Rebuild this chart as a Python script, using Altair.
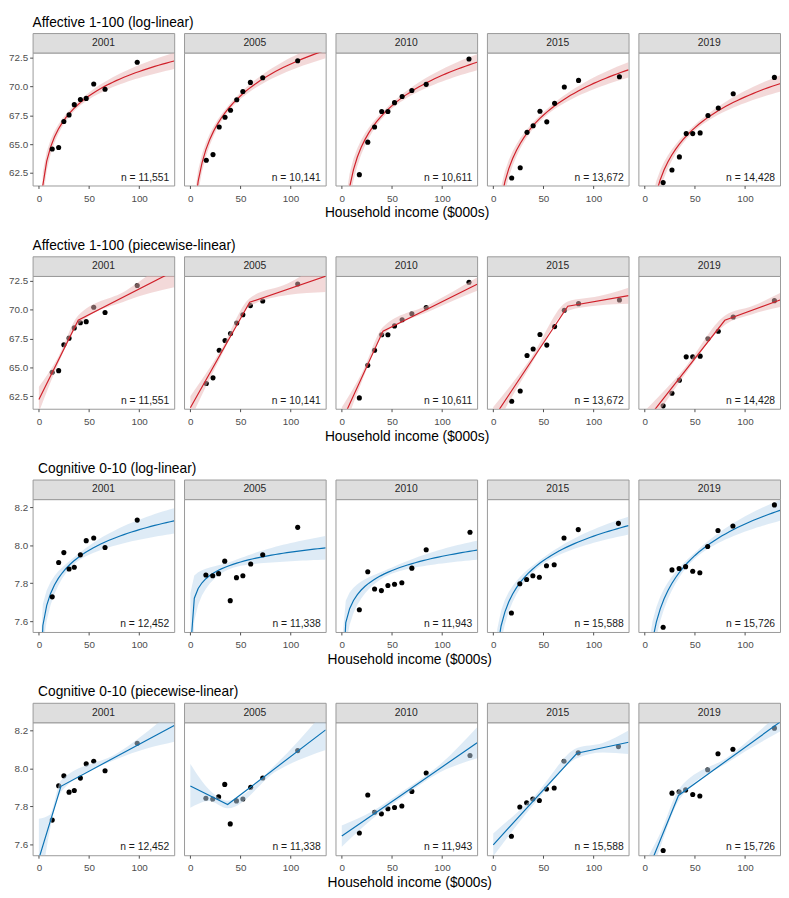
import altair as alt
import numpy as np
import pandas as pd

FONT = "Liberation Sans"
W, H, SH = 144, 135, 20
XDOM = [-6.3, 135]
AFF_DOM = [61.42, 72.93]
COG_DOM = [7.543, 8.242]
AFF_TICKS = [62.5, 65.0, 67.5, 70.0, 72.5]
COG_TICKS = [7.6, 7.8, 8.0, 8.2]
X_TICKS = [0, 50, 100]

years = [2001, 2005, 2010, 2015, 2019]

# ---- Affective (1-100): decile points ----
aff_x_2001 = [13.3, 19.7, 24.9, 30.1, 35.3, 41.4, 47.2, 54.7, 66.0, 98.1]
aff_y_2001 = [64.58, 64.72, 66.97, 67.54, 68.43, 68.88, 68.97, 70.22, 69.76, 72.10]
aff_x_2005 = [15.9, 22.6, 28.8, 34.6, 40.1, 46.3, 52.4, 59.9, 72.2, 107.1]
aff_y_2005 = [63.61, 64.10, 66.49, 67.34, 67.94, 68.85, 69.57, 70.36, 70.76, 72.24]
aff_x_2010 = [17.5, 25.9, 32.7, 39.8, 46.0, 52.6, 60.2, 69.9, 84.2, 126.9]
aff_y_2010 = [62.36, 65.18, 66.49, 67.83, 67.83, 68.60, 69.14, 69.65, 70.19, 72.39]
aff_x_2015 = [18.4, 26.9, 33.7, 39.8, 46.6, 53.4, 61.2, 70.9, 85.1, 125.9]
aff_y_2015 = [62.07, 62.96, 66.03, 66.60, 67.86, 66.94, 68.54, 69.96, 70.53, 70.85]
aff_x_2019 = [18.4, 27.2, 34.6, 41.4, 47.9, 55.3, 63.1, 73.4, 88.3, 129.4]
aff_y_2019 = [61.67, 62.76, 63.90, 65.92, 65.92, 65.98, 67.49, 68.14, 69.37, 70.79]
aff_n = ["11,551", "10,141", "10,611", "13,672", "14,428"]

# ---- Cognitive (0-10): decile points ----
cog_x_2001 = [13.3, 19.7, 24.9, 30.1, 35.3, 41.4, 47.2, 54.7, 66.0, 98.1]
cog_y_2001 = [7.728, 7.909, 7.961, 7.875, 7.884, 7.949, 8.024, 8.038, 7.988, 8.132]
cog_x_2005 = [15.5, 22.3, 28.2, 34.3, 39.8, 46.0, 52.4, 60.2, 72.2, 107.1]
cog_y_2005 = [7.843, 7.839, 7.850, 7.916, 7.708, 7.829, 7.839, 7.901, 7.950, 8.094]
cog_x_2010 = [17.5, 25.9, 32.7, 39.5, 46.0, 52.6, 59.9, 69.9, 84.2, 127.9]
cog_y_2010 = [7.660, 7.860, 7.769, 7.761, 7.788, 7.794, 7.802, 7.879, 7.976, 8.068]
cog_x_2015 = [18.1, 26.5, 33.3, 39.5, 46.0, 53.1, 60.8, 70.6, 84.8, 124.9]
cog_y_2015 = [7.643, 7.797, 7.819, 7.839, 7.831, 7.892, 7.897, 8.038, 8.082, 8.115]
cog_x_2019 = [18.4, 27.2, 34.3, 40.8, 47.9, 55.0, 62.8, 73.1, 88.0, 129.4]
cog_y_2019 = [7.568, 7.870, 7.877, 7.887, 7.863, 7.855, 7.993, 8.077, 8.101, 8.212]
cog_n = ["12,452", "11,338", "11,943", "15,588", "15,726"]

# ---- log-linear fits (intercept, slope on ln income) ----
aff_log_a = [57.27, 53.61, 53.48, 52.04, 51.38]
aff_log_b = [3.047, 3.983, 3.797, 3.957, 3.847]
aff_log_hmid = [0.25, 0.25, 0.25, 0.25, 0.25]
aff_log_hright = [0.70, 0.70, 0.70, 0.67, 0.70]
cog_log_a = [7.363, 7.618, 7.444, 7.194, 7.008]
cog_log_b = [0.156, 0.075, 0.108, 0.1853, 0.2396]
cog_log_hmid = [0.018, 0.018, 0.016, 0.016, 0.016]
cog_log_hright = [0.067, 0.062, 0.050, 0.047, 0.055]

# ---- piecewise-linear fits: knot, value at 0, at knot, at 135 ----
aff_pw_knot = [39.2, 59.2, 41.1, 74.4, 79.9]
aff_pw_y0 = [62.22, 61.50, 60.34, 60.58, 60.23]
aff_pw_yk = [69.10, 70.65, 68.15, 70.31, 69.09]
aff_pw_y135 = [73.36, 72.91, 72.22, 71.22, 70.85]
cog_pw_knot = [22.0, 37.2, 60.0, 83.5, 33.7]
cog_pw_y0 = [7.525, 7.908, 7.644, 7.598, 7.422]
cog_pw_yk = [7.906, 7.810, 7.862, 8.080, 7.858]
cog_pw_y135 = [8.226, 8.203, 8.135, 8.138, 8.244]
# band half-widths at x = 0, knot/2, knot, (knot+135)/2, 135
aff_pw_band_2001 = [1.10, 0.30, 0.40, 0.45, 1.40]
aff_pw_band_2005 = [1.00, 0.30, 0.35, 0.50, 1.37]
aff_pw_band_2010 = [1.20, 0.35, 0.35, 0.30, 0.57]
aff_pw_band_2015 = [1.00, 0.30, 0.40, 0.40, 0.70]
aff_pw_band_2019 = [1.00, 0.30, 0.40, 0.35, 0.60]
cog_pw_band_2001 = [0.21, 0.04, 0.03, 0.015, 0.085]
cog_pw_band_2005 = [0.115, 0.03, 0.02, 0.02, 0.106]
cog_pw_band_2010 = [0.056, 0.02, 0.015, 0.02, 0.082]
cog_pw_band_2015 = [0.06, 0.02, 0.027, 0.025, 0.062]
cog_pw_band_2019 = [0.08, 0.035, 0.03, 0.015, 0.05]

row_titles = ["Affective 1-100 (log-linear)", "Affective 1-100 (piecewise-linear)",
              "Cognitive 0-10 (log-linear)", "Cognitive 0-10 (piecewise-linear)"]
x_title = "Household income ($000s)"

RED, RED_BAND = "#D0202A", "#E8B4B4"
BLUE, BLUE_BAND = "#0B72B4", "#BDD7EE"

PTS = {
    "aff": [(aff_x_2001, aff_y_2001), (aff_x_2005, aff_y_2005), (aff_x_2010, aff_y_2010),
            (aff_x_2015, aff_y_2015), (aff_x_2019, aff_y_2019)],
    "cog": [(cog_x_2001, cog_y_2001), (cog_x_2005, cog_y_2005), (cog_x_2010, cog_y_2010),
            (cog_x_2015, cog_y_2015), (cog_x_2019, cog_y_2019)],
}
LOG = {"aff": (aff_log_a, aff_log_b, aff_log_hmid, aff_log_hright),
       "cog": (cog_log_a, cog_log_b, cog_log_hmid, cog_log_hright)}
PW = {"aff": (aff_pw_knot, aff_pw_y0, aff_pw_yk, aff_pw_y135,
              [aff_pw_band_2001, aff_pw_band_2005, aff_pw_band_2010, aff_pw_band_2015, aff_pw_band_2019]),
      "cog": (cog_pw_knot, cog_pw_y0, cog_pw_yk, cog_pw_y135,
              [cog_pw_band_2001, cog_pw_band_2005, cog_pw_band_2010, cog_pw_band_2015, cog_pw_band_2019])}
NS = {"aff": aff_n, "cog": cog_n}


def log_frames(kind, i):
    a, b, hm, hr = (v[i] for v in LOG[kind])
    xs = np.array(PTS[kind][i][0])
    c = np.mean(np.log(xs))
    h1 = np.sqrt(hr ** 2 - hm ** 2) / (np.log(135.0) - c)
    gx = np.append(0.1 + 3.85 * np.arange(36), 135.0)
    fit = a + b * np.log(gx)
    h = np.sqrt(hm ** 2 + (h1 * (np.log(gx) - c)) ** 2)
    df = pd.DataFrame({"x": gx, "fit": fit, "lo": fit - h, "hi": fit + h})
    return df, df, "linear"


def pw_frames(kind, i):
    knots, y0s, yks, y135s, bands = PW[kind]
    k, y0, yk, y135 = knots[i], y0s[i], yks[i], y135s[i]
    lx = [0.0, k, 135.0]
    ly = [y0, yk, y135]
    ldf = pd.DataFrame({"x": lx, "fit": ly})
    ax = np.array([0.0, k / 2, k, (k + 135.0) / 2, 135.0])
    cy = np.interp(ax, lx, ly)
    hw = np.array(bands[i])
    bdf = pd.DataFrame({"x": ax, "lo": cy - hw, "hi": cy + hw})
    return ldf, bdf, "monotone"


def panel(kind, model, i, show_y):
    dom = AFF_DOM if kind == "aff" else COG_DOM
    ticks = AFF_TICKS if kind == "aff" else COG_TICKS
    lcol, bcol = (RED, RED_BAND) if kind == "aff" else (BLUE, BLUE_BAND)
    xs, ys = PTS[kind][i]
    pts = pd.DataFrame({"x": xs, "y": ys})
    ldf, bdf, interp = log_frames(kind, i) if model == "log" else pw_frames(kind, i)

    xenc = alt.X("x:Q", scale=alt.Scale(domain=XDOM, nice=False, zero=False),
                 axis=alt.Axis(values=X_TICKS, title=None))

    def yenc(field):
        ax = alt.Axis(values=ticks, format=".1f", title=None) if show_y else None
        return alt.Y(f"{field}:Q", scale=alt.Scale(domain=dom, nice=False, zero=False), axis=ax)

    points = alt.Chart(pts).mark_circle(size=27, color="black", opacity=1).encode(x=xenc, y=yenc("y"))
    band = alt.Chart(bdf).mark_area(clip=True, color=bcol, opacity=0.5, interpolate=interp).encode(
        x=xenc, y=yenc("lo"), y2="hi:Q")
    line = alt.Chart(ldf).mark_line(clip=True, color=lcol, strokeWidth=1.2).encode(x=xenc, y=yenc("fit"))
    ntext = alt.Chart(pd.DataFrame({"t": [f"n = {NS[kind][i]}"]})).mark_text(
        align="right", baseline="bottom", fontSize=10.5, font=FONT, color="#1A1A1A").encode(
        x=alt.value(W - 5), y=alt.value(H - 3), text="t:N")
    layers = [band, line, points, ntext] if model == "log" else [points, band, line, ntext]
    plot = alt.layer(*layers).properties(width=W, height=H)

    strip = alt.Chart(pd.DataFrame({"t": [str(years[i])]})).mark_text(
        fontSize=10.5, font=FONT, color="#262626", baseline="middle").encode(
        x=alt.value(W / 2), y=alt.value(SH / 2), text="t:N").properties(
        width=W, height=SH, view=alt.ViewBackground(fill="#DEDEDE", stroke="#999999"))
    return alt.vconcat(strip, plot, spacing=0, bounds="flush")


rows = []
for r, (kind, model) in enumerate([("aff", "log"), ("aff", "pw"), ("cog", "log"), ("cog", "pw")]):
    panels = [panel(kind, model, i, i == 0) for i in range(5)]
    hrow = alt.hconcat(*panels, spacing=8, title=alt.TitleParams(
        x_title, orient="bottom", anchor="middle", dx=13, offset=3,
        fontSize=14, font=FONT, fontWeight="normal", color="black"))
    rows.append(alt.vconcat(hrow, title=alt.TitleParams(
        row_titles[r], anchor="start", dx=25, offset=3,
        fontSize=14, font=FONT, fontWeight="normal", color="black")))

chart = alt.vconcat(*rows, spacing=18).properties(padding=0).configure_view(
    stroke="#999999", strokeWidth=1, fill="white").configure_axis(
    grid=False, domain=False, labelFont=FONT, labelFontSize=10, labelColor="#4D4D4D",
    tickColor="#4D4D4D", tickSize=3).configure_axisX(labelPadding=5).configure_axisY(
    labelPadding=2).configure_title(font=FONT)

chart.save("out.html", embed_options={"renderer": "svg", "actions": False})
